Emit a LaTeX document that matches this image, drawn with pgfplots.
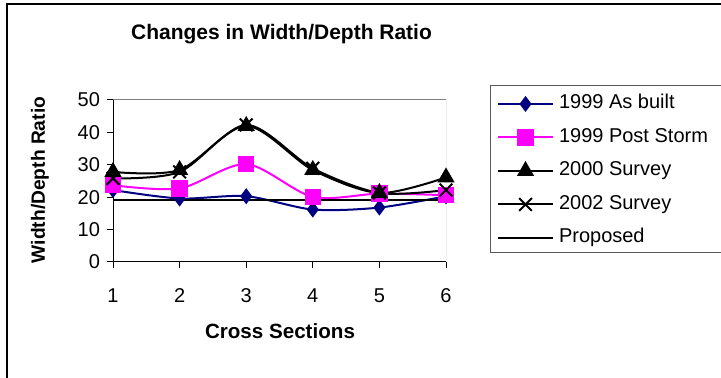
\documentclass[border=0pt]{standalone}
\usepackage{pgfplots}
\pgfplotsset{compat=1.18}
\usepackage{fontspec}
\setmainfont{Liberation Sans}
\definecolor{navyb}{RGB}{0,0,128}
\definecolor{pinkm}{RGB}{255,0,255}
\begin{document}
\begin{tikzpicture}[x=1pt,y=1pt]
\path[use as bounding box] (0,0) rectangle (360.5,189);
\draw[line width=0.6pt] (3.5,0) -- (3.5,187) -- (365,187);
\draw[line width=0.5pt, black!65] (245,146) rectangle (370,62.5);
\begin{axis}[
  at={(56.5pt,58pt)}, anchor=south west,
  scale only axis, width=166.5pt, height=81pt,
  xmin=1, xmax=6, ymin=0, ymax=50,
  xtick={1,2,3,4,5,6}, ytick={0,10,20,30,40,50},
  xtick pos=bottom, ytick pos=left,
  tick align=outside, major tick length=3pt,
  tick style={black, line width=0.5pt},
  axis line style={draw=none},
  font=\fontsize{10}{12}\selectfont,
  /pgf/number format/assume math mode=true,
  ticklabel style={font=\fontsize{10}{12}\selectfont},
  xticklabel style={anchor=base, yshift=-17.5pt},
  title={\bfseries Changes in Width/Depth Ratio},
  title style={at={(0.506,1.333)}, anchor=center, font=\fontsize{10.5}{12}\selectfont},
  xlabel={\bfseries Cross Sections},
  xlabel style={at={(0.5015,-0.426)}, anchor=center, font=\fontsize{10.3}{12}\selectfont},
  ylabel={\bfseries Width/Depth Ratio},
  ylabel style={at={(-0.2192,0.506)}, anchor=center, rotate=0, font=\fontsize{9.6}{12}\selectfont},
  legend style={draw=none, fill=none, at={(1.1532,1.0309)}, anchor=north west,
    inner sep=0pt, outer sep=0pt, row sep=7.75pt, column sep=2.5pt,
    font=\fontsize{10}{12}\selectfont,
    nodes={inner sep=0pt, text height=7pt, text depth=2pt}},
  legend cell align=left,
  legend image code/.code={\draw[mark repeat=2,mark phase=2] plot coordinates {(0pt,0pt) (13.75pt,0pt) (27.5pt,0pt)};},
  every axis plot/.append style={smooth, tension=0.5},
]
\draw[black!50, line width=0.5pt] (rel axis cs:0,1) -- (rel axis cs:1,1) -- (rel axis cs:1,0);
\draw[black, line width=0.6pt] (rel axis cs:0,1) -- (rel axis cs:0,0) -- (rel axis cs:1,0);
\addplot[color=navyb, line width=1pt, mark=diamond*, mark size=3.2pt, mark options={fill=navyb, solid}]
  coordinates {(1,22.2) (2,19.6) (3,20.3) (4,16.2) (5,16.8) (6,20.3)};
\addlegendentry{1999 As built}
\addplot[color=pinkm, line width=1pt, mark=square*, mark size=3.6pt, mark options={fill=pinkm, solid}]
  coordinates {(1,23.7) (2,22.7) (3,30.2) (4,20.1) (5,21.1) (6,20.6)};
\addlegendentry{1999 Post Storm}
\addplot[color=black, line width=1pt, mark=triangle*, mark size=4pt, mark options={fill=black, solid}]
  coordinates {(1,27.8) (2,28.4) (3,42.0) (4,28.4) (5,21.3) (6,26.1)};
\addlegendentry{2000 Survey}
\addplot[color=black, line width=1pt, mark=x, mark size=4.5pt, mark options={line width=1pt, solid}]
  coordinates {(1,25.8) (2,27.8) (3,42.3) (4,28.9) (5,21.3) (6,22.2)};
\addlegendentry{2002 Survey}
\addplot[color=black, line width=1pt, mark=none]
  coordinates {(1,19.1) (2,19.1) (3,19.1) (4,19.1) (5,19.1) (6,19.1)};
\addlegendentry{Proposed}
\end{axis}
\end{tikzpicture}
\end{document}
